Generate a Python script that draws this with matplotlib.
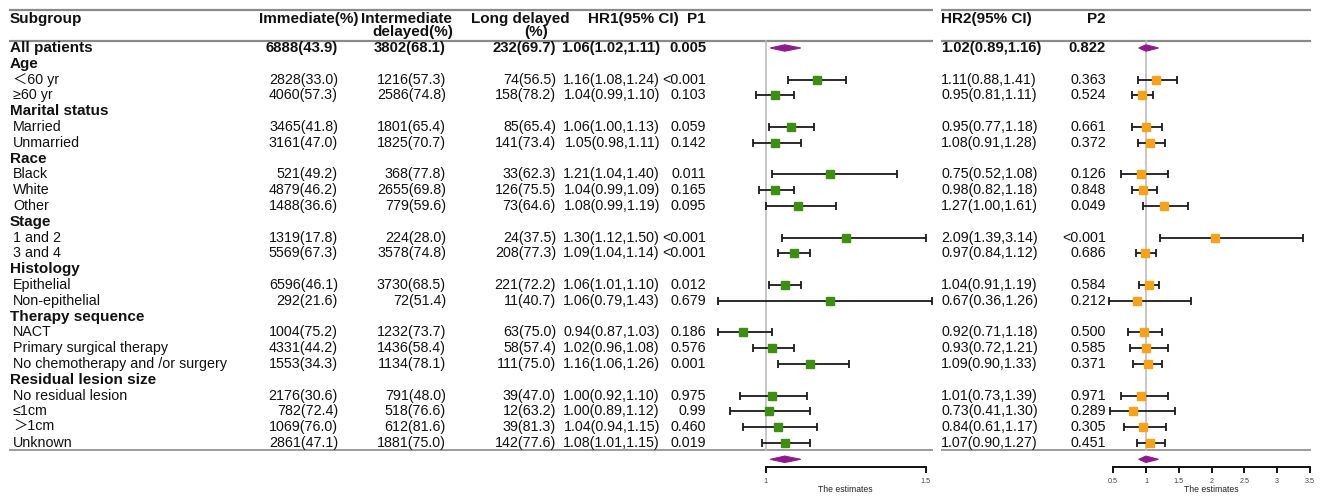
import matplotlib
matplotlib.use("Agg")
import matplotlib.pyplot as plt
from matplotlib.patches import Polygon
import numpy as np

plt.rcParams['font.family'] = ['Liberation Sans', 'Noto Sans CJK SC', 'DejaVu Sans']

# ---------------- data ----------------
subgroups = ["All patients", "Age", "＜60 yr", "≥60 yr", "Marital status", "Married", "Unmarried",
             "Race", "Black", "White", "Other", "Stage", "1 and 2", "3 and 4", "Histology",
             "Epithelial", "Non-epithelial", "Therapy sequence", "NACT", "Primary surgical therapy",
             "No chemotherapy and /or surgery", "Residual lesion size", "No residual lesion",
             "≤1cm", "＞1cm", "Unknown"]
is_header = [True, True, False, False, True, False, False, True, False, False, False, True, False,
             False, True, False, False, True, False, False, False, True, False, False, False, False]

immediate = ["6888(43.9)", "", "2828(33.0)", "4060(57.3)", "", "3465(41.8)", "3161(47.0)", "",
             "521(49.2)", "4879(46.2)", "1488(36.6)", "", "1319(17.8)", "5569(67.3)", "",
             "6596(46.1)", "292(21.6)", "", "1004(75.2)", "4331(44.2)", "1553(34.3)", "",
             "2176(30.6)", "782(72.4)", "1069(76.0)", "2861(47.1)"]
intermediate = ["3802(68.1)", "", "1216(57.3)", "2586(74.8)", "", "1801(65.4)", "1825(70.7)", "",
                "368(77.8)", "2655(69.8)", "779(59.6)", "", "224(28.0)", "3578(74.8)", "",
                "3730(68.5)", "72(51.4)", "", "1232(73.7)", "1436(58.4)", "1134(78.1)", "",
                "791(48.0)", "518(76.6)", "612(81.6)", "1881(75.0)"]
long_delayed = ["232(69.7)", "", "74(56.5)", "158(78.2)", "", "85(65.4)", "141(73.4)", "",
                "33(62.3)", "126(75.5)", "73(64.6)", "", "24(37.5)", "208(77.3)", "",
                "221(72.2)", "11(40.7)", "", "63(75.0)", "58(57.4)", "111(75.0)", "",
                "39(47.0)", "12(63.2)", "39(81.3)", "142(77.6)"]
hr1_text = ["1.06(1.02,1.11)", "", "1.16(1.08,1.24)", "1.04(0.99,1.10)", "", "1.06(1.00,1.13)",
            "1.05(0.98,1.11)", "", "1.21(1.04,1.40)", "1.04(0.99,1.09)", "1.08(0.99,1.19)", "",
            "1.30(1.12,1.50)", "1.09(1.04,1.14)", "", "1.06(1.01,1.10)", "1.06(0.79,1.43)", "",
            "0.94(0.87,1.03)", "1.02(0.96,1.08)", "1.16(1.06,1.26)", "", "1.00(0.92,1.10)",
            "1.00(0.89,1.12)", "1.04(0.94,1.15)", "1.08(1.01,1.15)"]
p1 = ["0.005", "", "<0.001", "0.103", "", "0.059", "0.142", "", "0.011", "0.165", "0.095", "",
      "<0.001", "<0.001", "", "0.012", "0.679", "", "0.186", "0.576", "0.001", "", "0.975",
      "0.99", "0.460", "0.019"]
hr2_text = ["1.02(0.89,1.16)", "", "1.11(0.88,1.41)", "0.95(0.81,1.11)", "", "0.95(0.77,1.18)",
            "1.08(0.91,1.28)", "", "0.75(0.52,1.08)", "0.98(0.82,1.18)", "1.27(1.00,1.61)", "",
            "2.09(1.39,3.14)", "0.97(0.84,1.12)", "", "1.04(0.91,1.19)", "0.67(0.36,1.26)", "",
            "0.92(0.71,1.18)", "0.93(0.72,1.21)", "1.09(0.90,1.33)", "", "1.01(0.73,1.39)",
            "0.73(0.41,1.30)", "0.84(0.61,1.17)", "1.07(0.90,1.27)"]
p2 = ["0.822", "", "0.363", "0.524", "", "0.661", "0.372", "", "0.126", "0.848", "0.049", "",
      "<0.001", "0.686", "", "0.584", "0.212", "", "0.500", "0.585", "0.371", "", "0.971",
      "0.289", "0.305", "0.451"]

# plotted estimates (read from the drawn markers); nan = no marker
nan = np.nan
hr1_est = [1.06, nan, 1.16, 1.03, nan, 1.08, 1.03, nan, 1.20, 1.03, 1.10, nan, 1.25, 1.09, nan,
           1.06, 1.20, nan, 0.93, 1.02, 1.14, nan, 1.02, 1.01, 1.04, 1.06]
hr1_lo = [1.015, nan, 1.07, 0.97, nan, 1.01, 0.96, nan, 1.02, 0.98, 1.00, nan, 1.05, 1.04, nan,
          1.01, 0.85, nan, 0.85, 0.96, 1.04, nan, 0.92, 0.89, 0.93, 0.99]
hr1_hi = [1.11, nan, 1.25, 1.09, nan, 1.15, 1.11, nan, 1.41, 1.09, 1.22, nan, 1.50, 1.14, nan,
          1.11, 1.52, nan, 1.02, 1.09, 1.26, nan, 1.13, 1.14, 1.16, 1.14]
hr2_est = [1.00, nan, 1.15, 0.94, nan, 1.00, 1.06, nan, 0.92, 0.96, 1.27, nan, 2.05, 0.99, nan,
           1.05, 0.86, nan, 0.97, 1.00, 1.03, nan, 0.92, 0.80, 0.95, 1.06]
hr2_lo = [0.89, nan, 0.88, 0.78, nan, 0.78, 0.88, nan, 0.62, 0.78, 0.96, nan, 1.22, 0.85, nan,
          0.89, 0.43, nan, 0.73, 0.76, 0.80, nan, 0.62, 0.45, 0.67, 0.87]
hr2_hi = [1.19, nan, 1.48, 1.10, nan, 1.25, 1.29, nan, 1.33, 1.17, 1.64, nan, 3.40, 1.16, nan,
          1.20, 1.69, nan, 1.25, 1.33, 1.25, nan, 1.33, 1.44, 1.31, 1.29]

hr1_ticks = [1, 1.5]
hr2_ticks = [0.5, 1, 1.5, 2, 2.5, 3, 3.5]

# ---------------- layout ----------------
W, H = 1321, 497
fig = plt.figure(figsize=(W / 100, H / 100), dpi=100)
tab = fig.add_axes([0, 0, 1, 1])
tab.set_xlim(0, W)
tab.set_ylim(H, 0)
tab.axis("off")

row0, dy = 48.0, 15.8
rows_y = [row0 + i * dy for i in range(len(subgroups))]
summary_y = row0 + len(subgroups) * dy + 0.5

line_col = "#8a8a8a"
for yy, lw in [(10, 1.6), (41, 1.6), (450, 1.2)]:
    tab.plot([9, 933], [yy, yy], color=line_col, lw=lw, solid_capstyle="butt")
    tab.plot([941, 1311], [yy, yy], color=line_col, lw=lw, solid_capstyle="butt")

hfs = 11
fs = 10.3
tcol = "#111111"
tab.text(10, 19, "Subgroup", fontsize=hfs, weight="bold", va="center", ha="left", color=tcol)
tab.text(358, 19, "Immediate(%)", fontsize=hfs, weight="bold", va="center", ha="right", color=tcol)
tab.text(406, 19, "Intermediate", fontsize=hfs, weight="bold", va="center", ha="center", color=tcol)
tab.text(413, 32, "delayed(%)", fontsize=hfs, weight="bold", va="center", ha="center", color=tcol)
tab.text(520, 19, "Long delayed", fontsize=hfs, weight="bold", va="center", ha="center", color=tcol)
tab.text(536, 32, "(%)", fontsize=hfs, weight="bold", va="center", ha="center", color=tcol)
tab.text(588, 19, "HR1(95% CI)", fontsize=hfs, weight="bold", va="center", ha="left", color=tcol)
tab.text(706, 19, "P1", fontsize=hfs, weight="bold", va="center", ha="right", color=tcol)
tab.text(941, 19, "HR2(95% CI)", fontsize=hfs, weight="bold", va="center", ha="left", color=tcol)
tab.text(1106, 19, "P2", fontsize=hfs, weight="bold", va="center", ha="right", color=tcol)

for i, y in enumerate(rows_y):
    bold = is_header[i]
    w = "bold" if bold else "normal"
    size = hfs if bold else fs
    x0 = 10 if bold else 13
    tab.text(x0, y, subgroups[i], fontsize=size, weight=w, va="center", ha="left", color=tcol)
    vs = hfs - 0.3 if bold else fs
    tab.text(338, y, immediate[i], fontsize=vs, weight=w, va="center", ha="right", color=tcol)
    tab.text(446, y, intermediate[i], fontsize=vs, weight=w, va="center", ha="right", color=tcol)
    tab.text(556, y, long_delayed[i], fontsize=vs, weight=w, va="center", ha="right", color=tcol)
    tab.text(660, y, hr1_text[i], fontsize=vs, weight=w, va="center", ha="right", color=tcol)
    tab.text(706, y, p1[i], fontsize=vs, weight=w, va="center", ha="right", color=tcol)
    tab.text(941, y, hr2_text[i], fontsize=vs, weight=w, va="center", ha="left", color=tcol)
    tab.text(1106, y, p2[i], fontsize=vs, weight=w, va="center", ha="right", color=tcol)


def forest(px_left, px_right, px_ref, px_per_unit, est, lo, hi, ticks, color):
    x0 = 1 - (px_ref - px_left) / px_per_unit
    x1 = 1 + (px_right - px_ref) / px_per_unit
    ax = fig.add_axes([px_left / W, 0, (px_right - px_left) / W, 1])
    ax.set_xlim(x0, x1)
    ax.set_ylim(H, 0)
    ax.patch.set_alpha(0)
    for s in ["top", "left", "right"]:
        ax.spines[s].set_visible(False)
    ax.set_yticks([])
    # reference line
    ax.plot([1, 1], [41, 450], color="#bdbdbd", lw=1.2, zorder=1)
    for i, y in enumerate(rows_y):
        if np.isnan(est[i]) or i == 0:
            continue
        ax.errorbar(est[i], y, xerr=[[est[i] - lo[i]], [hi[i] - est[i]]], fmt="none",
                    ecolor="#1a1a1a", elinewidth=1.3, capsize=2.6, capthick=1.3, zorder=2)
        ax.plot(est[i], y, marker="s", ms=6.2, color=color, mec=color, zorder=3)
    # summary diamonds
    for y in (rows_y[0], summary_y):
        d = Polygon([[lo[0], y], [est[0], y - 3.2], [hi[0], y], [est[0], y + 3.2]],
                    closed=True, fc="#8e1a8e", ec="#8e1a8e", lw=0.8, zorder=3)
        ax.add_patch(d)
    # axis
    sp = ax.spines["bottom"]
    sp.set_position(("data", 466.5))
    sp.set_bounds(ticks[0], ticks[-1])
    sp.set_linewidth(1.4)
    sp.set_color("#111111")
    ax.set_xticks(ticks)
    ax.set_xticklabels([("%g" % t) for t in ticks])
    ax.tick_params(axis="x", direction="out", length=4, width=1.4, labelsize=5.2, pad=4,
                   colors="#111111", labelcolor="#444444")
    ax.text((ticks[0] + ticks[-1]) / 2, 490, "The estimates", fontsize=6.2, ha="center",
            va="center", color="#222222")
    return ax


forest(716, 933, 765.5, 320.0, hr1_est, hr1_lo, hr1_hi, hr1_ticks, "#3e8e14")
forest(1105, 1313, 1146, 65.6, hr2_est, hr2_lo, hr2_hi, hr2_ticks, "#f5a21c")

fig.savefig("out.png", dpi=100)
